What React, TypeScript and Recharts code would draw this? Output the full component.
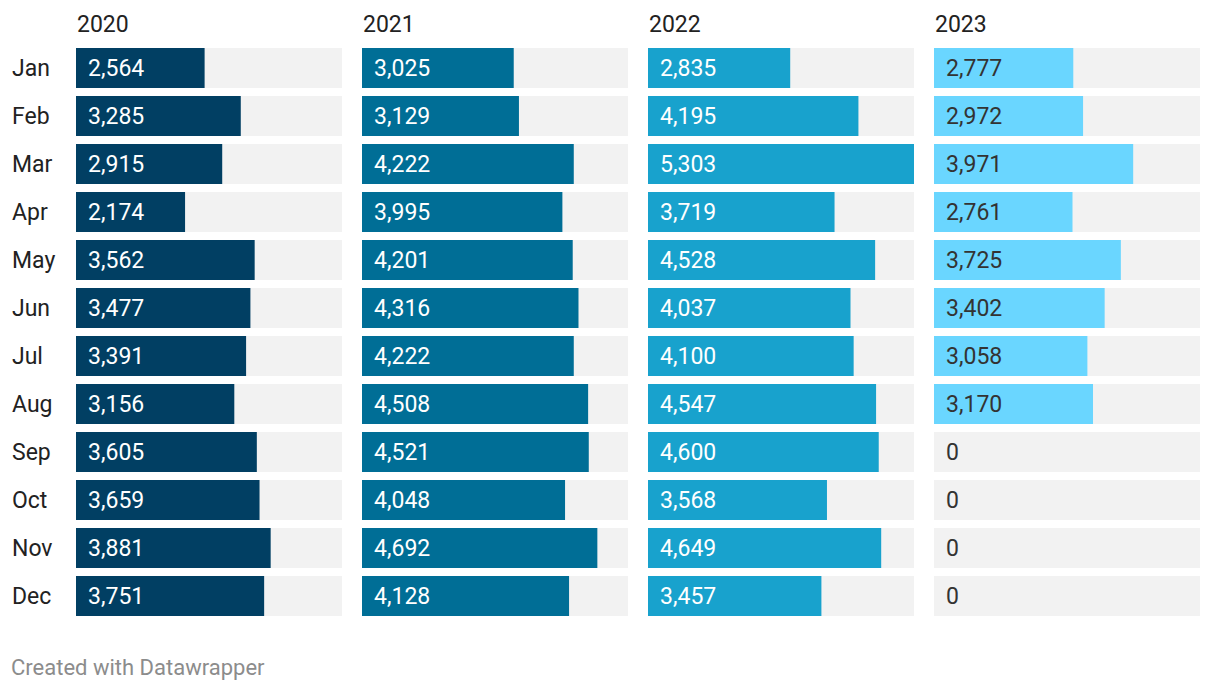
import { BarChart, Bar, XAxis, YAxis, LabelList } from "recharts";

const months = ["Jan", "Feb", "Mar", "Apr", "May", "Jun", "Jul", "Aug", "Sep", "Oct", "Nov", "Dec"];
const years = ["2020", "2021", "2022", "2023"];

const v2020 = [2564, 3285, 2915, 2174, 3562, 3477, 3391, 3156, 3605, 3659, 3881, 3751];
const v2021 = [3025, 3129, 4222, 3995, 4201, 4316, 4222, 4508, 4521, 4048, 4692, 4128];
const v2022 = [2835, 4195, 5303, 3719, 4528, 4037, 4100, 4547, 4600, 3568, 4649, 3457];
const v2023 = [2777, 2972, 3971, 2761, 3725, 3402, 3058, 3170, 0, 0, 0, 0];

const series = [v2020, v2021, v2022, v2023];
const colors = ["#013f63", "#006e96", "#18a2cd", "#6ad6ff"];
const labelColors = ["#ffffff", "#ffffff", "#ffffff", "#333333"];

const FONT = "Roboto, sans-serif";
// scale max = largest value across all panels
const MAX = Math.max(...v2020, ...v2021, ...v2022, ...v2023);

function ValueLabel(props: any) {
  const { x, y, height, value, textColor } = props;
  return (
    <text
      x={x + 12}
      y={y + height / 2}
      dominantBaseline="central"
      fill={textColor}
      fontSize={23}
      fontFamily={FONT}
    >
      {Number(value).toLocaleString("en-US")}
    </text>
  );
}

function MonthTick(props: any) {
  const { y, payload } = props;
  return (
    <text x={12} y={y} dominantBaseline="central" fill="#222" fontSize={23} fontFamily={FONT}>
      {payload.value}
    </text>
  );
}

function Panel({ idx }: { idx: number }) {
  const data = months.map((m, i) => ({ month: m, value: series[idx][i], full: MAX }));
  const first = idx === 0;
  const yAxisW = first ? 76 : 0;
  return (
    <BarChart
      width={266 + yAxisW}
      height={576}
      data={data}
      layout="vertical"
      margin={{ top: 0, right: 0, bottom: 0, left: 0 }}
      barGap={-40}
    >
      <XAxis type="number" domain={[0, MAX]} hide />
      <YAxis
        type="category"
        dataKey="month"
        width={yAxisW}
        hide={!first}
        axisLine={false}
        tickLine={false}
        tick={<MonthTick />}
      />
      {/* grey track */}
      <Bar dataKey="full" fill="#f2f2f2" barSize={40} isAnimationActive={false} />
      <Bar dataKey="value" fill={colors[idx]} barSize={40} isAnimationActive={false} />
      {/* invisible bar just to carry the labels on top */}
      <Bar dataKey="full" fill="transparent" barSize={40} isAnimationActive={false}>
        <LabelList dataKey="value" content={<ValueLabel textColor={labelColors[idx]} />} />
      </Bar>
    </BarChart>
  );
}

export default function App() {
  const lefts = [0, 362, 648, 934];
  return (
    <div style={{ position: "relative", width: 1220, height: 692, margin: -8, background: "#fff", fontFamily: FONT }}>
      {years.map((yr, i) => (
        <div
          key={yr}
          style={{ position: "absolute", left: (i === 0 ? 76 : lefts[i]) + 1, top: 11, fontSize: 23, color: "#222" }}
        >
          {yr}
        </div>
      ))}
      {years.map((yr, i) => (
        <div key={"p" + yr} style={{ position: "absolute", left: lefts[i], top: 44 }}>
          <Panel idx={i} />
        </div>
      ))}
      <div style={{ position: "absolute", left: 11, top: 655, fontSize: 22, color: "#8c8c8c" }}>
        Created with Datawrapper
      </div>
    </div>
  );
}
